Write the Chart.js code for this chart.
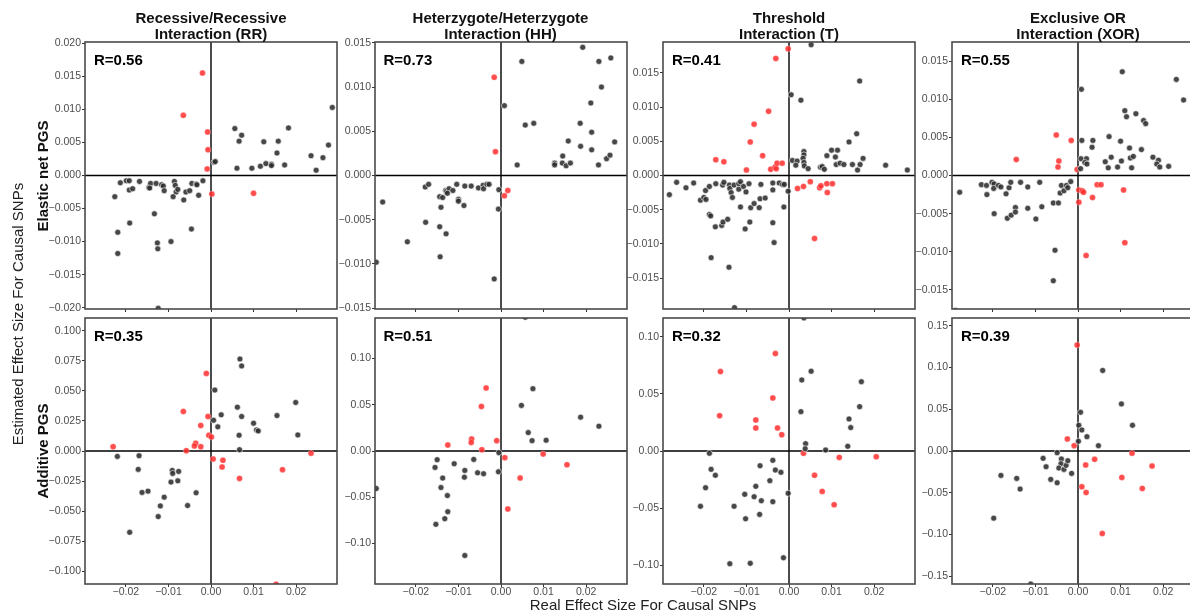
<!DOCTYPE html>
<html>
<head>
<meta charset="utf-8">
<script src="https://cdn.jsdelivr.net/npm/chart.js@4.4.1/dist/chart.umd.min.js"></script>
<style>
body { margin: 0; width: 1190px; height: 615px; overflow: hidden; background: #fff; position: relative;
  font-family: "Liberation Sans", Arial, sans-serif; }
.panel { position: absolute; }
.title { position: absolute; top: 10px; width: 280px; text-align: center; font-weight: bold; font-size: 15px; line-height: 16px; color: #111; }
.rlab { position: absolute; font-weight: bold; font-size: 15px; line-height: 20px; color: #000; }
.vlab { position: absolute; width: 300px; height: 20px; line-height: 20px; text-align: center; white-space: nowrap; transform: rotate(-90deg); }
.xlab { position: absolute; width: 300px; text-align: center; font-size: 15px; line-height: 20px; color: #222; }
</style>
</head>
<body>
<script>
// tick labels
const xTicks = [-0.02, -0.01, 0, 0.01, 0.02];
const rrEnetTicks = [-0.020, -0.015, -0.010, -0.005, 0, 0.005, 0.010, 0.015, 0.020];
const enetTicks15 = [-0.015, -0.010, -0.005, 0, 0.005, 0.010, 0.015];
const rrAddTicks = [-0.100, -0.075, -0.050, -0.025, 0, 0.025, 0.050, 0.075, 0.100];
const addTicks10 = [-0.10, -0.05, 0, 0.05, 0.10];
const xorAddTicks = [-0.15, -0.10, -0.05, 0, 0.05, 0.10, 0.15];

const titles = [['Recessive/Recessive', 'Interaction (RR)'], ['Heterzygote/Heterzygote', 'Interaction (HH)'],
  ['Threshold', 'Interaction (T)'], ['Exclusive OR', 'Interaction (XOR)']];
const enetR = ['0.56', '0.73', '0.41', '0.55'];
const addR = ['0.35', '0.51', '0.32', '0.39'];

// [real effect, estimated effect]
const rrEnetRed = [[-0.0020,0.0155],[-0.0065,0.0091],[-0.0008,0.0066],[-0.0007,0.0039],[-0.0009,0.0010],[0.0002,-0.0028],[0.0100,-0.0027]];
const rrEnetBlack = [[0.0007,0.0020],[0.0010,0.0021],[0.0056,0.0071],[0.0066,0.0052],[0.0072,0.0061],[0.0061,0.0011],[0.0096,0.0011],[0.0116,0.0014],[0.0124,0.0051],[0.0129,0.0018],[0.0142,0.0017],[0.0142,0.0015],[0.0158,0.0052],[0.0155,0.0034],[0.0173,0.0016],[0.0182,0.0072],[0.0235,0.0030],[0.0247,0.0008],[0.0263,0.0027],[0.0276,0.0046],[0.0285,0.0103],
  [-0.0226,-0.0032],[-0.0213,-0.0011],[-0.0219,-0.0086],[-0.0219,-0.0118],[-0.0199,-0.0008],[-0.0192,-0.0008],[-0.0192,-0.0022],[-0.0184,-0.0020],[-0.0191,-0.0072],[-0.0168,-0.0009],[-0.0146,-0.0018],[-0.0142,-0.0012],[-0.0144,-0.0019],[-0.0129,-0.0012],[-0.0133,-0.0058],[-0.0126,-0.0102],[-0.0125,-0.0111],[-0.0124,-0.0201],[-0.0116,-0.0014],[-0.0112,-0.0016],[-0.0110,-0.0023],[-0.0094,-0.0100],[-0.0086,-0.0009],[-0.0084,-0.0015],[-0.0082,-0.0025],[-0.0078,-0.0021],[-0.0089,-0.0032],[-0.0064,-0.0037],[-0.0059,-0.0025],[-0.0050,-0.0023],[-0.0045,-0.0012],[-0.0046,-0.0081],[-0.0035,-0.0013],[-0.0033,-0.0014],[-0.0029,-0.0030],[-0.0019,-0.0008]];

const hhEnetRed = [[-0.0016,0.0111],[-0.0013,0.0027],[0.0008,-0.0023],[0.0016,-0.0017]];
const hhEnetBlack = [[0.0008,0.0079],[0.0049,0.0129],[0.0057,0.0057],[0.0077,0.0059],[0.0038,0.0012],[0.0126,0.0014],[0.0126,0.0012],[0.0145,0.0022],[0.0144,0.0014],[0.0153,0.0011],[0.0163,0.0014],[0.0158,0.0039],[0.0186,0.0059],[0.0187,0.0033],[0.0192,0.0145],[0.0211,0.0082],[0.0213,0.0049],[0.0213,0.0029],[0.0230,0.0129],[0.0236,0.0100],[0.0229,0.0012],[0.0248,0.0019],[0.0256,0.0023],[0.0258,0.0133],[0.0267,0.0038],
  [-0.0293,-0.0098],[-0.0278,-0.0030],[-0.0220,-0.0075],[-0.0178,-0.0013],[-0.0170,-0.0010],[-0.0177,-0.0053],[-0.0144,-0.0024],[-0.0137,-0.0025],[-0.0141,-0.0036],[-0.0144,-0.0058],[-0.0129,-0.0066],[-0.0143,-0.0092],[-0.0130,-0.0017],[-0.0128,-0.0018],[-0.0122,-0.0015],[-0.0126,-0.0020],[-0.0113,-0.0017],[-0.0104,-0.0010],[-0.0100,-0.0027],[-0.0100,-0.0029],[-0.0087,-0.0034],[-0.0085,-0.0012],[-0.0070,-0.0012],[-0.0053,-0.0014],[-0.0042,-0.0011],[-0.0041,-0.0015],[-0.0033,-0.0010],[-0.0028,-0.0010],[-0.0005,-0.0016],[-0.0006,-0.0038],[-0.0016,-0.0117]];

const tEnetRed = [[-0.0002,0.0185],[-0.0031,0.0171],[-0.0048,0.0094],[-0.0082,0.0075],[-0.0091,0.0049],[-0.0062,0.0029],[-0.0172,0.0023],[-0.0153,0.0020],[-0.0100,0.0008],[-0.0043,0.0009],[-0.0033,0.0012],[-0.0030,0.0010],[-0.0028,0.0018],[-0.0016,0.0018],[0.0020,-0.0019],[0.0034,-0.0016],[0.0050,-0.0009],[0.0072,-0.0018],[0.0075,-0.0015],[0.0089,-0.0012],[0.0090,-0.0025],[0.0102,-0.0012],[0.0060,-0.0092]];
const tEnetBlack = [[0.0052,0.0191],[0.0005,0.0118],[0.0028,0.0110],[0.0166,0.0138],[0.0159,0.0061],[0.0141,0.0049],[0.0008,0.0022],[0.0019,0.0021],[0.0016,0.0015],[0.0035,0.0035],[0.0035,0.0030],[0.0033,0.0025],[0.0035,0.0019],[0.0036,0.0014],[0.0045,0.0010],[0.0074,0.0012],[0.0078,0.0013],[0.0083,0.0009],[0.0089,0.0029],[0.0100,0.0037],[0.0114,0.0037],[0.0109,0.0027],[0.0111,0.0016],[0.0120,0.0018],[0.0129,0.0016],[0.0149,0.0016],[0.0161,0.0008],[0.0167,0.0016],[0.0174,0.0025],[0.0227,0.0015],[0.0278,0.0008],
  [-0.0281,-0.0028],[-0.0264,-0.0010],[-0.0242,-0.0018],[-0.0224,-0.0011],[-0.0208,-0.0036],[-0.0200,-0.0032],[-0.0195,-0.0035],[-0.0196,-0.0022],[-0.0187,-0.0016],[-0.0187,-0.0057],[-0.0184,-0.0059],[-0.0173,-0.0075],[-0.0183,-0.0120],[-0.0172,-0.0012],[-0.0158,-0.0073],[-0.0155,-0.0068],[-0.0156,-0.0014],[-0.0153,-0.0010],[-0.0144,-0.0064],[-0.0141,-0.0134],[-0.0128,-0.0193],[-0.0140,-0.0014],[-0.0139,-0.0019],[-0.0136,-0.0025],[-0.0133,-0.0032],[-0.0129,-0.0014],[-0.0118,-0.0020],[-0.0118,-0.0012],[-0.0114,-0.0009],[-0.0114,-0.0046],[-0.0107,-0.0016],[-0.0101,-0.0024],[-0.0103,-0.0078],[-0.0094,-0.0012],[-0.0092,-0.0068],[-0.0090,-0.0047],[-0.0082,-0.0041],[-0.0070,-0.0047],[-0.0068,-0.0034],[-0.0056,-0.0033],[-0.0066,-0.0013],[-0.0038,-0.0011],[-0.0038,-0.0021],[-0.0038,-0.0069],[-0.0035,-0.0098],[-0.0023,-0.0011],[-0.0015,-0.0013],[-0.0011,-0.0013],[-0.0012,-0.0046],[-0.0002,-0.0023]];

const xorEnetRed = [[-0.0145,0.0021],[-0.0051,0.0053],[-0.0016,0.0046],[-0.0045,0.0019],[-0.0047,0.0011],[-0.0002,0.0008],[0.0002,-0.0019],[0.0010,-0.0020],[0.0013,-0.0022],[0.0002,-0.0035],[0.0034,-0.0029],[0.0045,-0.0012],[0.0054,-0.0012],[0.0107,-0.0019],[0.0110,-0.0088],[0.0019,-0.0105]];
const xorEnetBlack = [[0.0008,0.0113],[0.0104,0.0136],[0.0110,0.0085],[0.0114,0.0077],[0.0136,0.0081],[0.0154,0.0072],[0.0159,0.0068],[0.0231,0.0126],[0.0248,0.0099],[0.0009,0.0046],[0.0035,0.0046],[0.0033,0.0037],[0.0073,0.0051],[0.0100,0.0045],[0.0121,0.0036],[0.0149,0.0034],[0.0007,0.0022],[0.0020,0.0022],[0.0016,0.0017],[0.0021,0.0015],[0.0006,0.0009],[0.0064,0.0018],[0.0078,0.0024],[0.0071,0.0010],[0.0093,0.0011],[0.0102,0.0019],[0.0123,0.0023],[0.0130,0.0025],[0.0126,0.0010],[0.0176,0.0024],[0.0189,0.0020],[0.0185,0.0015],[0.0192,0.0011],[0.0213,0.0012],
  [-0.0288,-0.0177],[-0.0278,-0.0022],[-0.0227,-0.0012],[-0.0215,-0.0013],[-0.0214,-0.0025],[-0.0202,-0.0009],[-0.0197,-0.0011],[-0.0198,-0.0017],[-0.0197,-0.0050],[-0.0187,-0.0013],[-0.0181,-0.0015],[-0.0169,-0.0024],[-0.0162,-0.0016],[-0.0158,-0.0009],[-0.0166,-0.0056],[-0.0157,-0.0052],[-0.0147,-0.0042],[-0.0147,-0.0048],[-0.0135,-0.0009],[-0.0118,-0.0015],[-0.0118,-0.0043],[-0.0099,-0.0057],[-0.0090,-0.0009],[-0.0085,-0.0041],[-0.0058,-0.0036],[-0.0046,-0.0036],[-0.0054,-0.0098],[-0.0058,-0.0138],[-0.0042,-0.0023],[-0.0039,-0.0013],[-0.0033,-0.0020],[-0.0027,-0.0013],[-0.0024,-0.0016],[-0.0017,-0.0008]];

const rrAddRed = [[-0.0230,0.0036],[-0.0065,0.0329],[-0.0011,0.0646],[-0.0007,0.0287],[-0.0024,0.0212],[-0.0005,0.0131],[0.0001,0.0117],[-0.0036,0.0064],[-0.0039,0.0042],[-0.0024,0.0036],[-0.0058,0.0003],[0.0005,-0.0067],[0.0028,-0.0078],[0.0026,-0.0134],[0.0067,-0.0228],[0.0168,-0.0156],[0.0235,-0.0019],[0.0153,-0.1109]];
const rrAddBlack = [[-0.0220,-0.0045],[-0.0169,-0.0039],[-0.0171,-0.0153],[-0.0162,-0.0345],[-0.0148,-0.0334],[-0.0191,-0.0677],[-0.0124,-0.0546],[-0.0119,-0.0457],[-0.0110,-0.0384],[-0.0094,-0.0259],[-0.0091,-0.0162],[-0.0090,-0.0187],[-0.0078,-0.0248],[-0.0076,-0.0170],[-0.0055,-0.0454],[-0.0035,-0.0348],[0.0009,0.0507],[0.0006,0.0256],[0.0016,0.0201],[0.0024,0.0301],[0.0062,0.0365],[0.0068,0.0766],[0.0072,0.0708],[0.0072,0.0287],[0.0066,0.0131],[0.0067,0.0011],[0.0100,0.0231],[0.0107,0.0175],[0.0111,0.0167],[0.0155,0.0295],[0.0199,0.0404],[0.0204,0.0134]];

const hhAddRed = [[-0.0035,0.0681],[-0.0046,0.0482],[-0.0069,0.0130],[-0.0070,0.0091],[-0.0125,0.0065],[-0.0045,0.0014],[-0.0010,0.0112],[0.0009,-0.0072],[0.0099,-0.0033],[0.0155,-0.0149],[0.0045,-0.0293],[0.0016,-0.0627]];
const hhAddBlack = [[0.0057,0.1446],[0.0075,0.0674],[0.0048,0.0493],[0.0187,0.0366],[0.0230,0.0268],[0.0064,0.0199],[0.0073,0.0112],[0.0106,0.0116],[-0.0005,-0.0018],[-0.0006,-0.0225],[-0.0293,-0.0406],[-0.0150,-0.0094],[-0.0155,-0.0178],[-0.0110,-0.0138],[-0.0064,-0.0091],[-0.0085,-0.0210],[-0.0086,-0.0283],[-0.0055,-0.0236],[-0.0041,-0.0246],[-0.0137,-0.0293],[-0.0141,-0.0395],[-0.0126,-0.0482],[-0.0125,-0.0656],[-0.0132,-0.0732],[-0.0153,-0.0793],[-0.0085,-0.1130]];

const tAddRed = [[-0.0161,0.0696],[-0.0163,0.0310],[-0.0032,0.0854],[-0.0038,0.0465],[-0.0078,0.0272],[-0.0078,0.0202],[-0.0027,0.0202],[-0.0017,0.0143],[0.0034,-0.0020],[0.0118,-0.0056],[0.0205,-0.0050],[0.0060,-0.0213],[0.0078,-0.0354],[0.0106,-0.0471]];
const tAddBlack = [[0.0035,0.1167],[0.0052,0.0699],[0.0030,0.0623],[0.0028,0.0345],[0.0170,0.0608],[0.0166,0.0389],[0.0141,0.0281],[0.0145,0.0205],[0.0138,0.0041],[0.0086,0.0009],[0.0039,0.0064],[0.0038,0.0020],[-0.0187,-0.0020],[-0.0183,-0.0161],[-0.0173,-0.0213],[-0.0196,-0.0322],[-0.0208,-0.0485],[-0.0129,-0.0485],[-0.0139,-0.0988],[-0.0091,-0.0985],[-0.0104,-0.0380],[-0.0082,-0.0401],[-0.0078,-0.0310],[-0.0065,-0.0436],[-0.0102,-0.0594],[-0.0069,-0.0556],[-0.0068,-0.0129],[-0.0038,-0.0082],[-0.0032,-0.0167],[-0.0019,-0.0187],[-0.0045,-0.0260],[-0.0038,-0.0444],[-0.0002,-0.0371],[-0.0013,-0.0936]];

const xorAddRed = [[-0.0002,0.1268],[-0.0025,0.0144],[-0.0009,0.0064],[0.0018,-0.0168],[0.0039,-0.0100],[0.0127,-0.0028],[0.0174,-0.0180],[0.0103,-0.0316],[0.0151,-0.0448],[0.0009,-0.0428],[0.0019,-0.0496],[0.0057,-0.0988]];
const xorAddBlack = [[0.0058,0.0964],[0.0102,0.0564],[0.0128,0.0308],[0.0006,0.0464],[0.0002,0.0308],[0.0009,0.0252],[0.0021,0.0172],[0.0001,0.0116],[0.0048,0.0064],[-0.0049,-0.0020],[-0.0082,-0.0088],[-0.0075,-0.0188],[-0.0039,-0.0096],[-0.0040,-0.0152],[-0.0045,-0.0204],[-0.0033,-0.0220],[-0.0028,-0.0172],[-0.0024,-0.0116],[-0.0015,-0.0268],[-0.0064,-0.0340],[-0.0049,-0.0380],[-0.0181,-0.0292],[-0.0144,-0.0328],[-0.0136,-0.0456],[-0.0198,-0.0804],[-0.0111,-0.1592]];

const FONT = '"Liberation Sans", Arial, sans-serif';
const colLeft = [85, 374.5, 663, 952];
const rowTop = [42, 318];
const rowH = [267, 266];
const plotW = 252;

const panels = [
  { col: 0, row: 0, black: rrEnetBlack, red: rrEnetRed, ticks: rrEnetTicks, dec: 3, ymax: 0.0202, r: enetR[0] },
  { col: 1, row: 0, black: hhEnetBlack, red: hhEnetRed, ticks: enetTicks15, dec: 3, ymax: 0.0151, r: enetR[1] },
  { col: 2, row: 0, black: tEnetBlack, red: tEnetRed, ticks: enetTicks15, dec: 3, ymax: 0.0195, r: enetR[2] },
  { col: 3, row: 0, black: xorEnetBlack, red: xorEnetRed, ticks: enetTicks15, dec: 3, ymax: 0.0175, r: enetR[3] },
  { col: 0, row: 1, black: rrAddBlack, red: rrAddRed, ticks: rrAddTicks, dec: 3, ymax: 0.1107, r: addR[0] },
  { col: 1, row: 1, black: hhAddBlack, red: hhAddRed, ticks: addTicks10, dec: 2, ymax: 0.1438, r: addR[1] },
  { col: 2, row: 1, black: tAddBlack, red: tAddRed, ticks: addTicks10, dec: 2, ymax: 0.1166, r: addR[2] },
  { col: 3, row: 1, black: xorAddBlack, red: xorAddRed, ticks: xorAddTicks, dec: 2, ymax: 0.1592, r: addR[3] }
];

function fmt(v, d) {
  return (v < 0 ? '\u2212' : '') + Math.abs(v).toFixed(d);
}

function addDiv(cls, text, css) {
  const el = document.createElement('div');
  el.className = cls;
  el.innerHTML = text;
  Object.assign(el.style, css);
  document.body.appendChild(el);
  return el;
}

// zero lines under the points, panel border on top
const framePlugin = {
  id: 'frame',
  beforeDatasetsDraw(chart) {
    const { ctx, chartArea: a, scales: { x, y } } = chart;
    const x0 = x.getPixelForValue(0), y0 = y.getPixelForValue(0);
    ctx.save();
    ctx.strokeStyle = '#000';
    ctx.lineWidth = 1.4;
    ctx.beginPath();
    ctx.moveTo(x0, a.top); ctx.lineTo(x0, a.bottom);
    ctx.moveTo(a.left, y0); ctx.lineTo(a.right, y0);
    ctx.stroke();
    ctx.restore();
  },
  afterDatasetsDraw(chart) {
    const { ctx, chartArea: a } = chart;
    ctx.save();
    ctx.strokeStyle = '#4a4a4a';
    ctx.lineWidth = 1.6;
    ctx.strokeRect(a.left, a.top, a.right - a.left, a.bottom - a.top);
    ctx.restore();
  }
};

panels.forEach(p => {
  const L = colLeft[p.col], T = rowTop[p.row], H = rowH[p.row];
  const bottomH = p.row === 1 ? 22 : 8;
  const canvas = document.createElement('canvas');
  canvas.width = plotW + 70;
  canvas.height = H + 10 + bottomH;
  canvas.className = 'panel';
  canvas.style.left = (L - 60) + 'px';
  canvas.style.top = (T - 10) + 'px';
  document.body.appendChild(canvas);

  const pts = arr => arr.map(([x, y]) => ({ x, y }));

  new Chart(canvas, {
    type: 'scatter',
    data: {
      datasets: [
        { data: pts(p.black), backgroundColor: 'rgba(45,45,45,0.88)', borderColor: '#fff', borderWidth: 0.6, pointRadius: 3, clip: 0 },
        { data: pts(p.red), backgroundColor: 'rgba(255,45,45,0.85)', borderColor: 'rgba(255,255,255,0.6)', borderWidth: 0.5, pointRadius: 3, clip: 0 }
      ]
    },
    options: {
      responsive: false,
      animation: false,
      events: [],
      layout: { padding: { left: 0, top: 10, right: 10, bottom: 0 } },
      plugins: { legend: { display: false }, tooltip: { enabled: false } },
      scales: {
        x: {
          type: 'linear', min: -0.0296, max: 0.0296,
          afterBuildTicks: s => { s.ticks = xTicks.map(v => ({ value: v })); },
          afterFit: s => { s.height = bottomH; },
          ticks: { display: p.row === 1, callback: v => fmt(v, 2), color: '#4d4d4d', font: { size: 10.5, family: FONT }, padding: -1, maxRotation: 0, autoSkip: false },
          grid: { drawOnChartArea: false, tickLength: 3, color: '#333' },
          border: { display: false }
        },
        y: {
          type: 'linear', min: -p.ymax, max: p.ymax,
          afterBuildTicks: s => { s.ticks = p.ticks.map(v => ({ value: v })); },
          afterFit: s => { s.width = 60; },
          ticks: { callback: v => fmt(v, p.dec), color: '#4d4d4d', font: { size: 10.5, family: FONT }, padding: 1, autoSkip: false },
          grid: { drawOnChartArea: false, tickLength: 3, color: '#333' },
          border: { display: false }
        }
      }
    },
    plugins: [framePlugin]
  });

  addDiv('rlab', 'R=' + p.r, { left: (L + 9) + 'px', top: (T + 8) + 'px' });
});

titles.forEach((t, i) => {
  const cx = colLeft[i] + plotW / 2;
  addDiv('title', t[0] + '<br>' + t[1], { left: (cx - 140) + 'px' });
});

addDiv('vlab', 'Elastic net PGS', { left: (43 - 150) + 'px', top: (176 - 10) + 'px', fontWeight: 'bold', fontSize: '15px', color: '#111' });
addDiv('vlab', 'Additive PGS', { left: (43 - 150) + 'px', top: (451 - 10) + 'px', fontWeight: 'bold', fontSize: '15px', color: '#111' });
addDiv('vlab', 'Estimated Effect Size For Causal SNPs', { left: (18 - 150) + 'px', top: (314 - 10) + 'px', fontSize: '15px', color: '#222' });
addDiv('xlab', 'Real Effect Size For Causal SNPs', { left: (643 - 150) + 'px', top: '595px' });
</script>
</body>
</html>
